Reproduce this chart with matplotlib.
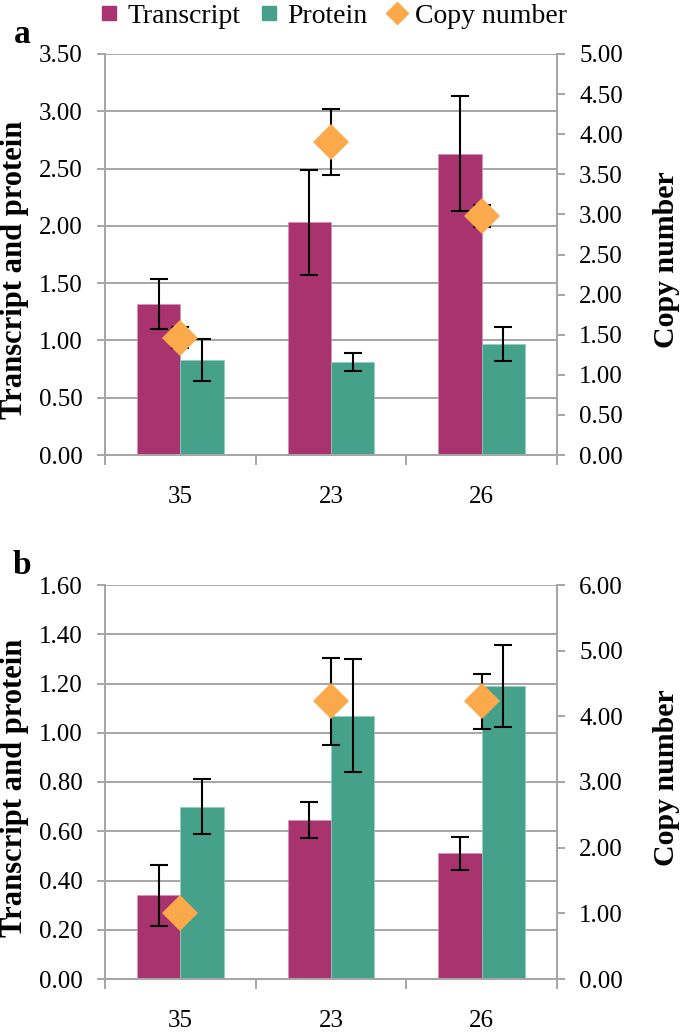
import matplotlib
matplotlib.use("Agg")
import matplotlib.pyplot as plt
from matplotlib.lines import Line2D
from matplotlib.ticker import FormatStrFormatter, MultipleLocator
import numpy as np

plt.rcParams['font.family'] = ['Liberation Serif', 'DejaVu Serif']

categories = ['35', '23', '26']

# Panel a
a_transcript = [1.32, 2.03, 2.63]
a_transcript_err = [0.22, 0.46, 0.50]
a_protein = [0.83, 0.81, 0.97]
a_protein_err = [0.18, 0.08, 0.15]
a_copy = [1.46, 3.90, 2.98]
a_copy_err = [0.13, 0.41, 0.14]

# Panel b
b_transcript = [0.34, 0.646, 0.51]
b_transcript_err = [0.123, 0.074, 0.068]
b_protein = [0.70, 1.07, 1.19]
b_protein_err = [0.113, 0.228, 0.166]
b_copy = [1.00, 4.23, 4.23]
b_copy_err = [0.0, 0.665, 0.42]

C_T = '#A8336F'
C_P = '#46A18A'
C_C = '#FBA94B'
GRID = '#A6A6A6'

W, H = 685, 1032
fig = plt.figure(figsize=(W / 100, H / 100), dpi=100)

TICK_FS = 18


def style_axis(a):
    a.spines['top'].set_visible(False)
    for s in ['left', 'right', 'bottom']:
        a.spines[s].set_color(GRID)
        a.spines[s].set_linewidth(1.4)
    a.tick_params(axis='y', length=6, width=1.4, color=GRID, labelsize=TICK_FS, pad=10)


def make_panel(top_px, bot_px, tr, tr_e, pr, pr_e, cp, cp_e, lmax, lstep, rmax, rstep,
               letter, lcy, rcy):
    left_px, right_px = 105, 557
    ax = fig.add_axes([left_px / W, 1 - bot_px / H, (right_px - left_px) / W, (bot_px - top_px) / H])
    x = np.arange(len(categories))
    bw = 0.288
    ekw = dict(ecolor='black', elinewidth=1.5, capsize=6.5, capthick=1.5)
    ax.bar(x - bw / 2, tr, bw, color=C_T, edgecolor='#d98fb5', linewidth=0.5, zorder=2)
    ax.bar(x + bw / 2, pr, bw, color=C_P, edgecolor='#8fd0bf', linewidth=0.5, zorder=2)
    ax.errorbar(x - bw / 2, tr, yerr=tr_e, fmt='none', zorder=3, **ekw)
    ax.errorbar(x + bw / 2, pr, yerr=pr_e, fmt='none', zorder=3, **ekw)
    ax.set_xlim(-0.5, len(categories) - 0.5)
    ax.set_ylim(0, lmax)
    ax.yaxis.set_major_locator(MultipleLocator(lstep))
    ax.yaxis.set_major_formatter(FormatStrFormatter('%.2f'))
    ax.grid(axis='y', color=GRID, linewidth=1.4)
    ax.set_axisbelow(True)
    ax.set_xticks(x)
    ax.set_xticklabels(categories)
    ax.set_xticks(np.arange(-0.5, len(categories)), minor=True)
    ax.tick_params(axis='x', which='major', length=0, pad=22, labelsize=TICK_FS)
    ax.tick_params(axis='x', which='minor', length=7, width=1.4, color=GRID)
    style_axis(ax)

    ax2 = ax.twinx()
    ax2.errorbar(x, cp, yerr=cp_e, fmt='none', zorder=3, **ekw)
    ax2.plot(x, cp, linestyle='none', marker='D', color=C_C, markersize=18,
             markeredgewidth=0, zorder=4)
    ax2.set_ylim(0, rmax)
    ax2.yaxis.set_major_locator(MultipleLocator(rstep))
    ax2.yaxis.set_major_formatter(FormatStrFormatter('%.2f'))
    style_axis(ax2)

    fig.text(15 / W, 1 - lcy / H, 'Transcript and protein', rotation=90, ha='center',
             va='center', fontsize=22, fontweight='bold')
    fig.text(666 / W, 1 - rcy / H, 'Copy number', rotation=90, ha='center', va='center',
             fontsize=21.5, fontweight='bold')
    fig.text(22 / W, 1 - (top_px - 11) / H, letter, ha='center', va='baseline',
             fontsize=24, fontweight='bold')


make_panel(54, 455, a_transcript, a_transcript_err, a_protein, a_protein_err,
           a_copy, a_copy_err, 3.5, 0.5, 5.0, 0.5, 'a', 270, 260)
make_panel(585, 979, b_transcript, b_transcript_err, b_protein, b_protein_err,
           b_copy, b_copy_err, 1.6, 0.2, 6.0, 1.0, 'b', 788, 778)

handles = [
    Line2D([], [], marker='s', linestyle='none', color=C_T, markersize=10),
    Line2D([], [], marker='s', linestyle='none', color=C_P, markersize=10),
    Line2D([], [], marker='D', linestyle='none', color=C_C, markersize=11),
]
fig.legend(handles, ['Transcript', 'Protein', 'Copy number'], loc='center',
           bbox_to_anchor=(333 / W, 1 - 16 / H), ncol=3, frameon=False, fontsize=20,
           handletextpad=0.3, columnspacing=0.7, handlelength=0.7, borderpad=0)

fig.savefig('out.png', dpi=100)
